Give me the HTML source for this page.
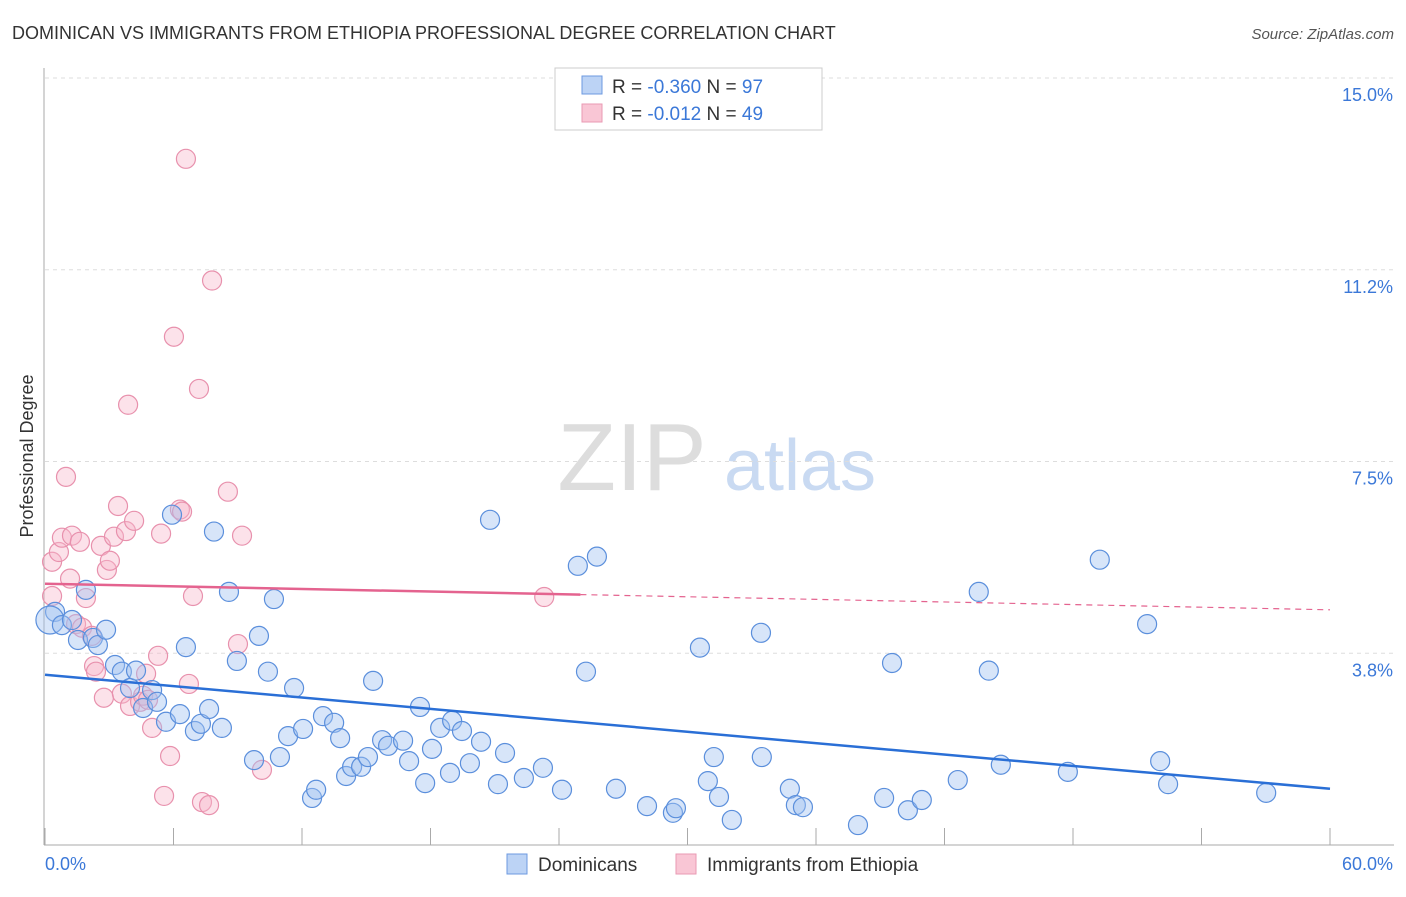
<!DOCTYPE html>
<html><head><meta charset="utf-8"><style>
body{margin:0;background:#fff;font-family:"Liberation Sans",sans-serif}
svg text{font-family:"Liberation Sans",sans-serif}
</style></head><body>
<svg id="chart" width="1406" height="892" viewBox="0 0 1406 892">
<text x="12" y="39" font-size="18" fill="#333">DOMINICAN VS IMMIGRANTS FROM ETHIOPIA PROFESSIONAL DEGREE CORRELATION CHART</text>
<text x="1394" y="39" font-size="15" fill="#555" text-anchor="end" font-style="italic">Source: ZipAtlas.com</text>
<g>
<text x="632" y="490" font-size="96" fill="#ddd" text-anchor="middle" font-family="Liberation Serif">ZIP</text>
<text x="800" y="490" font-size="72" fill="#c9daf2" text-anchor="middle">atlas</text>
</g>
<g id="grid"></g><g id="axes"></g><g id="pts"></g><g id="lines"></g>
<text transform="translate(33,456) rotate(-90)" font-size="18" fill="#333" text-anchor="middle">Professional Degree</text>
<g>
<rect x="555" y="68" width="267" height="62" fill="#fff" stroke="#ccc"/>
<rect x="582" y="76" width="20" height="18" fill="#bcd3f5" stroke="#6d9ae0"/>
<rect x="582" y="104" width="20" height="18" fill="#f9c6d5" stroke="#e99ab3"/>
<text x="612" y="93" font-size="19" fill="#333">R = <tspan fill="#3b78d8">-0.360</tspan>   N = <tspan fill="#3b78d8">97</tspan></text>
<text x="612" y="120" font-size="19" fill="#333">R =  <tspan fill="#3b78d8">-0.012</tspan>   N = <tspan fill="#3b78d8">49</tspan></text>
</g>
<g>
<rect x="507" y="854" width="20" height="20" fill="#bcd3f5" stroke="#6d9ae0"/>
<text x="538" y="871" font-size="19" fill="#333">Dominicans</text>
<rect x="676" y="854" width="20" height="20" fill="#f9c6d5" stroke="#e99ab3"/>
<text x="707" y="871" font-size="19" fill="#333">Immigrants from Ethiopia</text>
</g>
</svg>
<script>
const yTicks=[3.8,7.5,11.2,15.0];
const yGrid=[3.75,7.5,11.25,15];
const xTickLabels=["0.0%","60.0%"];
const blueX=[.47,.23,.79,1.26,1.54,1.91,2.24,2.47,2.85,3.27,3.59,3.97,4.25,4.58,5.00,5.23,5.65,5.93,6.30,6.58,7.00,7.28,7.66,7.89,8.26,8.59,8.96,9.76,9.99,10.41,10.69,10.97,11.35,11.63,12.05,12.47,12.66,12.98,13.50,13.78,14.06,14.34,14.76,15.08,15.32,15.74,16.02,16.72,17.00,17.51,17.75,18.07,18.45,18.91,19.01,19.47,19.84,20.36,20.78,21.15,21.48,22.36,23.25,24.14,24.88,25.26,25.77,26.66,28.11,29.32,29.46,30.58,30.95,31.23,31.47,32.07,33.43,33.47,34.78,35.06,35.39,37.96,39.18,39.55,40.29,40.94,42.62,43.60,44.07,44.63,47.76,49.25,51.46,52.07,52.44,57.02];
const blueY=[4.56,4.40,4.30,4.40,4.01,4.99,4.05,3.91,4.21,3.52,3.39,3.07,3.41,2.68,3.03,2.80,2.41,6.46,2.56,3.87,2.23,2.37,2.66,6.13,2.29,4.95,3.60,1.66,4.09,3.39,4.81,1.72,2.13,3.07,2.27,.92,1.08,2.52,2.39,2.09,1.35,1.53,1.53,1.72,3.21,2.05,1.94,2.04,1.64,2.70,1.21,1.88,2.29,1.41,2.43,2.23,1.60,2.02,6.36,1.19,1.80,1.31,1.51,1.08,5.46,3.39,5.64,1.10,.76,.63,.72,3.86,1.25,1.72,.94,.49,4.15,1.72,1.10,.78,.74,.39,.92,3.56,.68,.88,1.27,4.95,3.41,1.57,1.43,5.58,4.32,1.64,1.19,1.02];
const pinkX=[.33,.33,.65,.79,.98,1.17,1.26,1.45,1.63,1.73,1.91,2.19,2.29,2.38,2.61,2.75,2.89,3.03,3.22,3.41,3.59,3.78,3.97,4.16,3.88,4.44,4.58,4.72,5.00,5.28,5.42,5.56,5.84,6.02,6.30,6.40,6.58,6.72,6.91,7.19,7.33,7.66,7.80,8.54,9.01,9.20,10.13,23.31,4.81];
const pinkY=[4.87,5.54,5.73,6.01,7.20,5.21,6.05,4.32,5.93,4.25,4.83,4.09,3.50,3.39,5.85,2.88,5.38,5.56,6.03,6.63,2.96,6.14,2.72,6.34,8.61,2.80,2.92,3.35,2.29,3.70,6.09,.96,1.74,9.94,6.56,6.52,13.42,3.15,4.87,8.92,.84,.78,11.04,6.91,3.93,6.05,1.47,4.85,2.84];
const blueTrend=[3.33,1.10];
const pinkTrend=[5.11,4.60];
const pinkSolidEnd=25;
const X0=45,X1=1330,Y0=845,YS=51.13;
const sx=v=>X0+v*(X1-X0)/60, sy=v=>Y0-v*YS;
const NS="http://www.w3.org/2000/svg";
function mk(p,t,a){const e=document.createElementNS(NS,t);for(const k in a)e.setAttribute(k,a[k]);p.appendChild(e);return e;}
const grid=document.getElementById('grid'),axes=document.getElementById('axes'),pts=document.getElementById('pts'),lines=document.getElementById('lines');
yGrid.forEach((g,i)=>{
 const l=mk(grid,'line',{x1:45,x2:1394,y1:sy(g),y2:sy(g),stroke:'#ddd','stroke-dasharray':'4,4'});
 
 
 const t=mk(axes,'text',{x:1393,y:sy(g)+23,'font-size':18,fill:'#3b78d8','text-anchor':'end'});
 t.textContent=yTicks[i].toFixed(1)+'%';
 
 
});
const topG=mk(grid,'line',{x1:45,x2:1394,y1:78,y2:78,stroke:'#ddd','stroke-dasharray':'4,4'});


const ya=mk(axes,'line',{x1:44,x2:44,y1:68,y2:845,stroke:'#aaa'});


const xa=mk(axes,'line',{x1:44,x2:1394,y1:845,y2:845,stroke:'#aaa'});


for(let i=0;i<=10;i++){const tk=mk(axes,'line',{x1:sx(i*6),x2:sx(i*6),y1:828,y2:845,stroke:'#aaa'});
 
 }
const xl0=mk(axes,'text',{x:45,y:870,'font-size':18,fill:'#3b78d8'});xl0.textContent=xTickLabels[0];


const xl1=mk(axes,'text',{x:1393,y:870,'font-size':18,fill:'#3b78d8','text-anchor':'end'});xl1.textContent=xTickLabels[1];


pinkX.forEach((v,i)=>{const c=mk(pts,'circle',{cx:sx(v),cy:sy(pinkY[i]),r:9.5,fill:'rgba(248,182,202,0.4)',stroke:'#e891ad','stroke-width':1.2});
 
 });
blueX.forEach((v,i)=>{const c=mk(pts,'circle',{cx:sx(v),cy:sy(blueY[i]),r:i==1?14:9.5,fill:'rgba(160,194,240,0.42)',stroke:'#5b8fdc','stroke-width':1.2});
 
 });
const bl=mk(lines,'line',{x1:sx(0),y1:sy(blueTrend[0]),x2:sx(60),y2:sy(blueTrend[1]),stroke:'#2a6fd6','stroke-width':2.5});


const pm=pinkTrend[0]+(pinkTrend[1]-pinkTrend[0])*pinkSolidEnd/60;
const pl=mk(lines,'line',{x1:sx(0),y1:sy(pinkTrend[0]),x2:sx(pinkSolidEnd),y2:sy(pm),stroke:'#e4638f','stroke-width':2.5});


const pd=mk(lines,'line',{x1:sx(pinkSolidEnd),y1:sy(pm),x2:sx(60),y2:sy(pinkTrend[1]),stroke:'#e4638f','stroke-width':1.2,'stroke-dasharray':'6,5'});


</script>
</body></html>
